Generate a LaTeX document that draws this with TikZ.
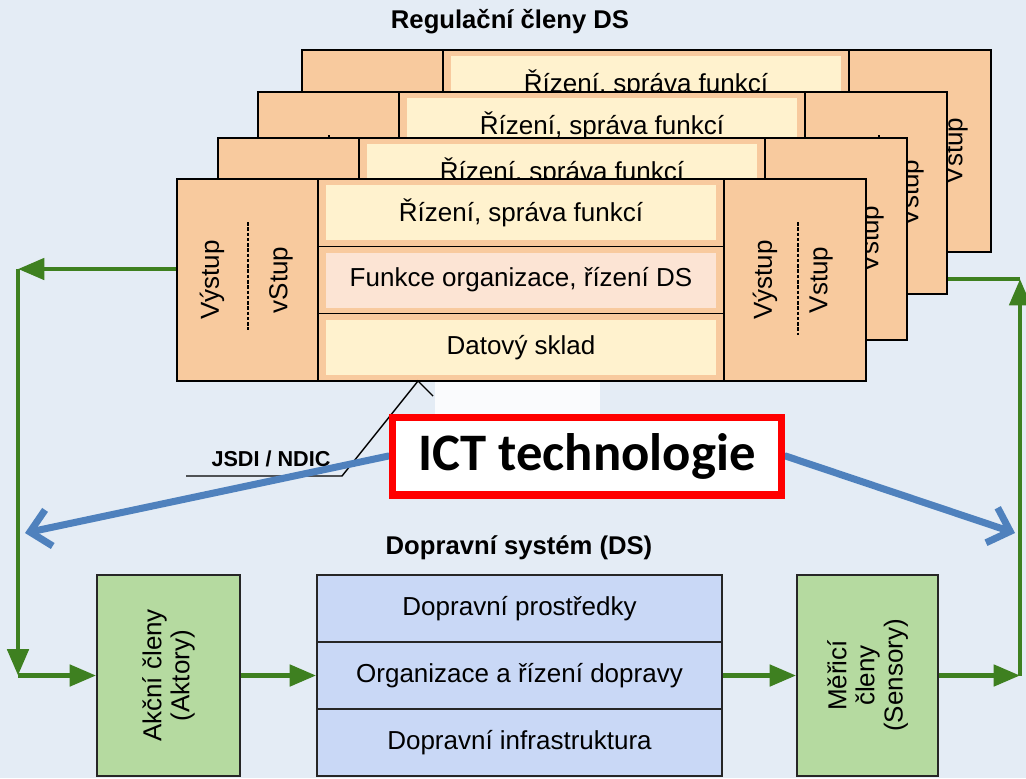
\documentclass[tikz,border=0pt]{standalone}
\usepackage{fontspec}
\setmainfont{Liberation Sans}
\newfontfamily\ictfont{Carlito}
\usetikzlibrary{positioning,arrows.meta}
\definecolor{bgblue}{RGB}{228,236,245}
\definecolor{peach}{RGB}{248,202,158}
\definecolor{cream}{RGB}{255,242,206}
\definecolor{blush}{RGB}{252,228,212}
\definecolor{lav}{RGB}{201,216,246}
\definecolor{leaf}{RGB}{181,218,160}
\definecolor{flowgreen}{RGB}{62,128,32}
\definecolor{ictblue}{RGB}{79,129,189}
\tikzset{
  >=latex,
}
\tikzstyle{every node}=[font=\fontsize{14.8}{16}\selectfont]
\tikzstyle{cardbox}=[draw=black,line width=1.5pt,fill=peach,minimum width=13.78cm,minimum height=4.04cm,inner sep=0pt]
\tikzstyle{rowfill}=[minimum width=7.8cm,minimum height=1.1cm,inner sep=0pt]
\tikzstyle{sysbox}=[draw=black!85,line width=1.1pt,minimum height=4.02cm,inner sep=0pt]
\tikzstyle{dsrow}=[sysbox,fill=lav,minimum width=8.1cm,minimum height=1.34cm]
\tikzstyle{flow}=[line width=2.6pt,draw=flowgreen,-{Triangle[length=15pt,width=12pt]}]
\tikzstyle{ictarrow}=[line width=4pt,draw=ictblue,line cap=round,-{Straight Barb[length=11pt,width=21pt]}]
\tikzstyle{ictbox}=[draw=red,line width=4pt,fill=white,minimum width=7.8cm,minimum height=1.56cm,font=\ictfont\bfseries\fontsize{30}{32}\selectfont]
\tikzstyle{title}=[font=\bfseries\fontsize{14.6}{16}\selectfont]
% one card of the regulation stack: name, left, top, x of last text
\newcommand{\regcard}[4]{%
  \begin{scope}[shift={(#2,#3)}]
    \node[cardbox] (#1) at (344.5,101) {};
    \draw[line width=1.5pt] (141,0) -- (141,202) (547,0) -- (547,202);
    \node[rowfill,fill=cream] (#1-a) at (344,33.5) {Řízení, správa funkcí};
    \node[rowfill,fill=blush] (#1-b) at (344,101) {Funkce organizace, řízení DS};
    \node[rowfill,fill=cream] (#1-c) at (344,168.5) {Datový sklad};
    \draw[line width=0.8pt] (141,67.3) -- (547,67.3) (141,134.7) -- (547,134.7);
    \draw[line width=0.7pt,dash pattern=on 2pt off 1pt] (71,43) -- (71,151) (621,43) -- (621,156);
    \node[rotate=90] at (35,101) {Výstup};
    \node[rotate=90] at (104,101) {vStup};
    \node[rotate=90] at (588,101) {Výstup};
    \node[rotate=90] at (#4,101) {Vstup};
  \end{scope}}

\begin{document}
\begin{tikzpicture}[x=0.02cm,y=-0.02cm]
  \useasboundingbox (0,0) rectangle (1026,778);
  \fill[bgblue] (0,0) rectangle (1026,778);
  \fill[white!80!bgblue] (435,381) rectangle (600,414);
  \node[title] (regtitle) at (510,22) {Regulační členy DS};
  % stack of cards, back to front
  \regcard{c4}{302}{50}{654}
  \regcard{c3}{258}{92}{654}
  \regcard{c2}{218}{138}{654}
  \regcard{c1}{177}{179}{644}
  % traffic system
  \node[title] (dstitle) at (519,548) {Dopravní systém (DS)};
  \node[sysbox,fill=leaf,minimum width=2.86cm] (akc) at (168.5,675.5) {};
  \node[rotate=90,align=center] (akctext) at (akc) {Akční členy\\(Aktory)};
  \node[dsrow] (dsa) at (519.5,608.5) {Dopravní prostředky};
  \node[dsrow] (dsb) at (519.5,675.5) {Organizace a řízení dopravy};
  \node[dsrow] (dsc) at (519.5,742.5) {Dopravní infrastruktura};
  \node[sysbox,fill=leaf,minimum width=2.82cm] (mer) at (867.5,675.5) {};
  \node[rotate=90,align=center] (mertext) at (mer) {Měřicí\\členy\\(Sensory)};
  % feedback loop
  \coordinate (lt) at (18,269);
  \coordinate (lb) at (18,675.5);
  \coordinate (rb) at (1020,675.5);
  \coordinate (rt) at (1020,279);
  \draw[flow] (lt -| c1.west) -- (lt);
  \draw[flow] (lt) -- (lb);
  \draw[flow] (lb) -- (akc.west);
  \draw[flow] (akc.east) -- (dsb.west);
  \draw[flow] (dsb.east) -- (mer.west);
  \draw[flow] (mer.east) -- (rb);
  \draw[flow] (rb) -- (rt);
  \draw[line width=2.6pt,flowgreen] (rt) -- (rt -| c3.east);
  % ICT
  \coordinate (dsl) at (25,533);
  \coordinate (dsr) at (1015,533);
  \coordinate (jl) at (186,476);
  \coordinate (jr) at (342,476);
  \coordinate (jt) at (418,381);
  \coordinate (je) at (433,396);
  \node[font=\bfseries\fontsize{12.3}{14}\selectfont] (jsdi) at (271,459) {JSDI / NDIC};
  \draw[line width=0.8pt] (jl) -- (jr) -- (jt) -- (je);
  \node[ictbox] (ict) at (587,456) {};
  \draw[ictarrow] (ict.west) -- (dsl);
  \draw[ictarrow] (ict.east) -- (dsr);
  \node[ictbox] (ict) at (587,456) {ICT technologie};
\end{tikzpicture}
\end{document}
